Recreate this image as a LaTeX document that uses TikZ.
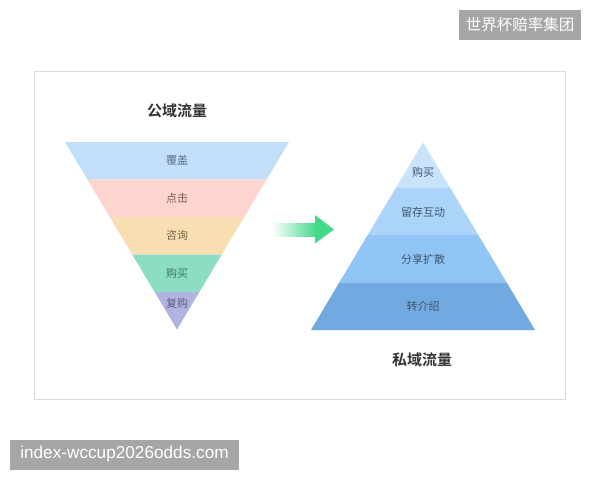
\documentclass[tikz,border=0pt]{standalone}
\usepackage{fontspec}
\newfontfamily\cjk{Noto Sans CJK SC}
\newfontfamily\cjkb{Noto Sans CJK SC Bold}
\newfontfamily\latin{Liberation Sans}
\definecolor{fA}{HTML}{C2DEF8}
\definecolor{fB}{HTML}{FDD5CE}
\definecolor{fC}{HTML}{F7DEB3}
\definecolor{fD}{HTML}{8BDEC1}
\definecolor{fE}{HTML}{B2B4E0}
\definecolor{tA}{HTML}{5B6F8C}
\definecolor{tB}{HTML}{7C5A55}
\definecolor{tC}{HTML}{7A6748}
\definecolor{tD}{HTML}{3E7560}
\definecolor{tE}{HTML}{5A5C86}
\definecolor{pA}{HTML}{C8E3FA}
\definecolor{pB}{HTML}{ABD4F8}
\definecolor{pC}{HTML}{90C5F5}
\definecolor{pD}{HTML}{72A9E0}
\definecolor{pT}{HTML}{3F5670}
\definecolor{arr}{HTML}{45D98A}
\definecolor{wm}{HTML}{A6A6A6}
\definecolor{frame}{HTML}{DDDDDD}
\definecolor{title}{HTML}{333333}
\tikzset{
  band/.style={inner sep=0pt},
  lbl/.style={font=\cjk\fontsize{11}{13}\selectfont, inner sep=0pt},
  ttl/.style={font=\cjkb\fontsize{15}{17}\selectfont, text=title, inner sep=0pt},
  wmbox/.style={fill=wm, text=white, inner sep=0pt, minimum height=30pt},
}
\begin{document}
\begin{tikzpicture}[x=1pt,y=-1pt]
\useasboundingbox (0,0) rectangle (600,480);
\fill[white] (0,0) rectangle (600,480);
% frame
\draw[frame, line width=0.8pt] (34,71) rectangle (565.5,399.5);
% funnel
\fill[fA] (65,142) -- (289,142) -- (266.6,179.5) -- (87.4,179.5) -- cycle;
\fill[fB] (87.4,179.5) -- (266.6,179.5) -- (244.2,217) -- (109.8,217) -- cycle;
\fill[fC] (109.8,217) -- (244.2,217) -- (221.8,254.5) -- (132.2,254.5) -- cycle;
\fill[fD] (132.2,254.5) -- (221.8,254.5) -- (199.4,292) -- (154.6,292) -- cycle;
\fill[fE] (154.6,292) -- (199.4,292) -- (177,329.5) -- cycle;
\node[ttl] (t1) at (177,111) {公域流量};
\node[lbl, text=tA] (f1) at (177,160.5) {覆盖};
\node[lbl, text=tB] (f2) at (177,198) {点击};
\node[lbl, text=tC] (f3) at (177,235.5) {咨询};
\node[lbl, text=tD] (f4) at (177,273.5) {购买};
\node[lbl, text=tE] (f5) at (177,303) {复购};
% pyramid
\fill[pA] (423,142.5) -- (449.8,187.3) -- (396.2,187.3) -- cycle;
\fill[pB] (396.2,187.3) -- (449.8,187.3) -- (477.9,234.3) -- (368.1,234.3) -- cycle;
\fill[pC] (368.1,234.3) -- (477.9,234.3) -- (506.6,282.3) -- (339.4,282.3) -- cycle;
\fill[pD] (339.4,282.3) -- (506.6,282.3) -- (535,330) -- (311,330) -- cycle;
\node[lbl, text=pT] (p1) at (423,172.5) {购买};
\node[lbl, text=pT] (p2) at (423,212.5) {留存互动};
\node[lbl, text=pT] (p3) at (423,259.5) {分享扩散};
\node[lbl, text=pT] (p4) at (423,306.5) {转介绍};
\node[ttl] (t2) at (422,360) {私域流量};
% arrow
\shade[left color=white, right color=arr, shading angle=90] (272,223.5) rectangle (316,236);
\fill[arr] (315,215) -- (334,229.5) -- (315,243.5) -- cycle;
% watermarks
\node[wmbox, minimum width=122pt, font=\cjk\fontsize{15.5}{17}\selectfont] (w1) at (520,24.5) {世界杯赔率集团};
\node[wmbox, minimum width=229pt, font=\latin\fontsize{17.2}{19}\selectfont] (w2) at (124.5,454.5) {index-wccup2026odds.com};
\end{tikzpicture}
\end{document}
